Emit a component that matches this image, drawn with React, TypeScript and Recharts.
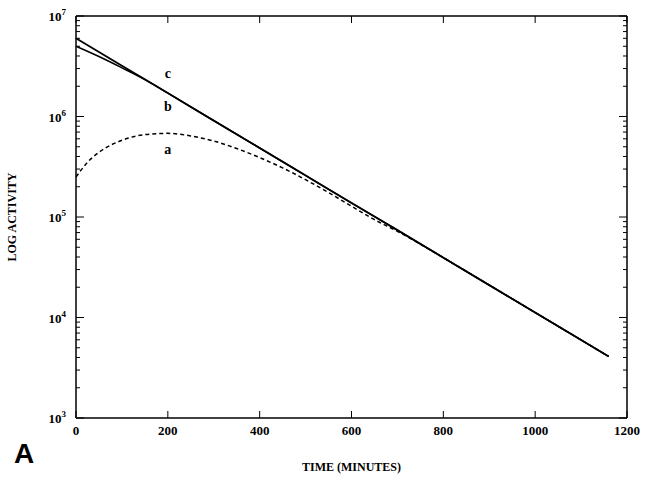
import { ComposedChart, Line, Scatter, XAxis, YAxis, ReferenceDot } from "recharts";

const xTicks = [0, 200, 400, 600, 800, 1000, 1200];
const yMajor = [1e3, 1e4, 1e5, 1e6, 1e7];
const yMinor = [
  2e3, 3e3, 4e3, 5e3, 6e3, 7e3, 8e3, 9e3,
  2e4, 3e4, 4e4, 5e4, 6e4, 7e4, 8e4, 9e4,
  2e5, 3e5, 4e5, 5e5, 6e5, 7e5, 8e5, 9e5,
  2e6, 3e6, 4e6, 5e6, 6e6, 7e6, 8e6, 9e6,
];

const curveA = [
  { t: 0, v: 2.5e5 }, { t: 25, v: 3.5e5 }, { t: 50, v: 4.4e5 }, { t: 100, v: 5.8e5 },
  { t: 150, v: 6.6e5 }, { t: 200, v: 6.8e5 }, { t: 250, v: 6.4e5 }, { t: 300, v: 5.7e5 },
  { t: 350, v: 4.8e5 }, { t: 400, v: 3.9e5 }, { t: 450, v: 3.08e5 }, { t: 500, v: 2.35e5 },
  { t: 550, v: 1.75e5 }, { t: 600, v: 1.28e5 }, { t: 650, v: 9.4e4 }, { t: 700, v: 7.2e4 },
  { t: 800, v: 3.94e4 }, { t: 900, v: 2.1e4 }, { t: 1000, v: 1.12e4 }, { t: 1100, v: 5.98e3 },
  { t: 1160, v: 4.1e3 },
];
const curveB = [
  { t: 0, v: 5.0e6 }, { t: 50, v: 3.95e6 }, { t: 100, v: 3.05e6 }, { t: 150, v: 2.33e6 },
  { t: 200, v: 1.71e6 }, { t: 300, v: 9.1e5 }, { t: 400, v: 4.86e5 }, { t: 500, v: 2.59e5 },
  { t: 600, v: 1.38e5 }, { t: 700, v: 7.4e4 }, { t: 800, v: 3.94e4 }, { t: 900, v: 2.1e4 },
  { t: 1000, v: 1.12e4 }, { t: 1100, v: 5.98e3 }, { t: 1160, v: 4.1e3 },
];
const curveC = [
  { t: 0, v: 6.0e6 }, { t: 100, v: 3.2e6 }, { t: 200, v: 1.71e6 }, { t: 300, v: 9.1e5 },
  { t: 400, v: 4.86e5 }, { t: 500, v: 2.59e5 }, { t: 600, v: 1.38e5 }, { t: 700, v: 7.4e4 },
  { t: 800, v: 3.94e4 }, { t: 900, v: 2.1e4 }, { t: 1000, v: 1.12e4 }, { t: 1100, v: 5.98e3 },
  { t: 1160, v: 4.1e3 },
];
const curveLabels = [
  { name: "c", t: 200, v: 2.7e6 },
  { name: "b", t: 200, v: 1.28e6 },
  { name: "a", t: 200, v: 4.8e5 },
];

const serif = "'Liberation Serif', 'DejaVu Serif', serif";

function PowTick({ x, y, payload }: any) {
  const exp = Math.round(Math.log10(payload.value));
  return (
    <text x={x - 2} y={y + 5} textAnchor="end" fontFamily={serif} fontWeight="bold" fontSize={13} fill="#000">
      10<tspan dy={-6} fontSize={9}>{exp}</tspan>
    </text>
  );
}

const ax = { stroke: "#000", strokeWidth: 1.5 };

// all border tick marks in one scatter; each point carries its direction
function TickMark(p: any) {
  const { dx, dy } = p.payload;
  return <line x1={p.cx} y1={p.cy} x2={p.cx + dx} y2={p.cy + dy} stroke="#000" strokeWidth={1} />;
}

export default function App() {
  const tickPts: any[] = [];
  yMajor.forEach((v) => {
    tickPts.push({ t: 0, v, dx: 8, dy: 0 });
    tickPts.push({ t: 1200, v, dx: -8, dy: 0 });
  });
  yMinor.forEach((v) => {
    tickPts.push({ t: 0, v, dx: 4, dy: 0 });
    tickPts.push({ t: 1200, v, dx: -4, dy: 0 });
  });
  xTicks.forEach((t) => {
    tickPts.push({ t, v: 1e3, dx: 0, dy: -7 });
    tickPts.push({ t, v: 1e7, dx: 0, dy: 7 });
  });
  const rightEdge = [{ t: 1200, v: 1e3 }, { t: 1200, v: 1e7 }];
  const topEdge = [{ t: 0, v: 1e7 }, { t: 1200, v: 1e7 }];

  return (
    <div style={{ position: "absolute", left: 0, top: 0, width: 646, height: 477, background: "#fff" }}>
      <ComposedChart width={646} height={477} margin={{ top: 16, right: 19, bottom: 0, left: 0 }}>
        <XAxis dataKey="t" type="number" domain={[0, 1200]} ticks={xTicks} height={59}
          axisLine={ax} tickLine={false}
          tick={{ fill: "#000", fontFamily: serif, fontWeight: "bold", fontSize: 13 }}
          label={{ value: "TIME (MINUTES)", position: "insideBottom", offset: 6, fill: "#000", fontFamily: serif, fontWeight: "bold", fontSize: 12 }} />
        <YAxis dataKey="v" scale="log" domain={[1e3, 1e7]} ticks={yMajor} width={76}
          axisLine={ax} tickLine={false} tick={<PowTick />}
          label={{ value: "LOG ACTIVITY", angle: -90, position: "insideLeft", offset: 12, fill: "#000", fontFamily: serif, fontWeight: "bold", fontSize: 12, style: { textAnchor: "middle" } }} />
        <Scatter data={tickPts} dataKey="v" shape={TickMark} isAnimationActive={false} />
        <Line data={rightEdge} dataKey="v" stroke="#000" strokeWidth={1.5} dot={false} isAnimationActive={false} />
        <Line data={topEdge} dataKey="v" stroke="#000" strokeWidth={1.5} dot={false} isAnimationActive={false} />
        <Line data={curveA} dataKey="v" type="monotone" stroke="#000" strokeWidth={1.5}
          strokeDasharray="4 3" dot={false} isAnimationActive={false} />
        <Line data={curveB} dataKey="v" type="monotone" stroke="#000" strokeWidth={1.5}
          dot={false} isAnimationActive={false} />
        <Line data={curveC} dataKey="v" type="monotone" stroke="#000" strokeWidth={1.8}
          dot={false} isAnimationActive={false} />
        {curveLabels.map((c) => (
          <ReferenceDot key={c.name} x={c.t} y={c.v} r={0} stroke="none"
            label={{ value: c.name, position: "center", fill: "#000", fontFamily: serif, fontWeight: "bold", fontSize: 14 }} />
        ))}
      </ComposedChart>
      <div style={{ position: "absolute", left: 14, top: 438, fontFamily: "'Liberation Sans', Arial, sans-serif", fontWeight: "bold", fontSize: 28 }}>
        A
      </div>
    </div>
  );
}
